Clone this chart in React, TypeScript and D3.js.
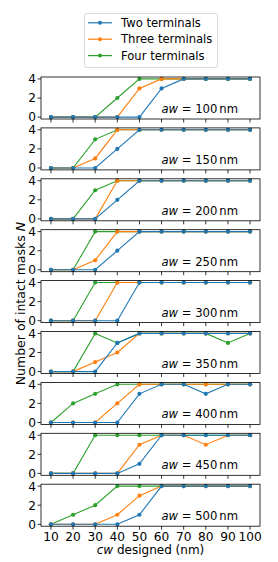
import React from 'react';
import * as d3 from 'd3';

// cw designed (nm)
const cwValues = [10, 20, 30, 40, 50, 60, 70, 80, 90, 100];
const awLabels = [100, 150, 200, 250, 300, 350, 400, 450, 500];
const yTicks = [0, 2, 4];

const seriesNames = ['Two terminals', 'Three terminals', 'Four terminals'];
const seriesColors = ['#1f77b4', '#ff7f0e', '#2ca02c'];

// one row per aw panel
const twoTerminals = [
  [0, 0, 0, 0, 0, 3, 4, 4, 4, 4],
  [0, 0, 0, 2, 4, 4, 4, 4, 4, 4],
  [0, 0, 0, 2, 4, 4, 4, 4, 4, 4],
  [0, 0, 0, 2, 4, 4, 4, 4, 4, 4],
  [0, 0, 0, 0, 4, 4, 4, 4, 4, 4],
  [0, 0, 0, 3, 4, 4, 4, 4, 4, 4],
  [0, 0, 0, 0, 3, 4, 4, 3, 4, 4],
  [0, 0, 0, 0, 1, 4, 4, 4, 4, 4],
  [0, 0, 0, 0, 1, 4, 4, 4, 4, 4],
];
const threeTerminals = [
  [0, 0, 0, 0, 3, 4, 4, 4, 4, 4],
  [0, 0, 1, 4, 4, 4, 4, 4, 4, 4],
  [0, 0, 0, 4, 4, 4, 4, 4, 4, 4],
  [0, 0, 1, 4, 4, 4, 4, 4, 4, 4],
  [0, 0, 0, 4, 4, 4, 4, 4, 4, 4],
  [0, 0, 1, 2, 4, 4, 4, 4, 4, 4],
  [0, 0, 0, 2, 4, 4, 4, 4, 4, 4],
  [0, 0, 0, 0, 3, 4, 4, 3, 4, 4],
  [0, 0, 0, 1, 3, 4, 4, 4, 4, 4],
];
const fourTerminals = [
  [0, 0, 0, 2, 4, 4, 4, 4, 4, 4],
  [0, 0, 3, 4, 4, 4, 4, 4, 4, 4],
  [0, 0, 3, 4, 4, 4, 4, 4, 4, 4],
  [0, 0, 4, 4, 4, 4, 4, 4, 4, 4],
  [0, 0, 4, 4, 4, 4, 4, 4, 4, 4],
  [0, 0, 4, 3, 4, 4, 4, 4, 3, 4],
  [0, 2, 3, 4, 4, 4, 4, 4, 4, 4],
  [0, 0, 4, 4, 4, 4, 4, 4, 4, 4],
  [0, 1, 2, 4, 4, 4, 4, 4, 4, 4],
];

const allSeries = [twoTerminals, threeTerminals, fourTerminals];

const width = 278;
const height = 562;
const left = 41;
const right = 260;
const firstTop = 77;
const panelH = 42;
const pitch = 50.9;
const font = 'DejaVu Sans, sans-serif';

export default function App() {
  const x = d3.scaleLinear().domain([5.5, 104.5]).range([left, right]);
  const y = d3.scaleLinear().domain([-0.2, 4.2]).range([panelH, 0]);
  const line = d3
    .line<number>()
    .x((_, i) => x(cwValues[i]))
    .y((d) => y(d));

  // blue drawn last so it sits on top
  const drawOrder = [2, 1, 0];

  return (
    <svg width={width} height={height} style={{ position: 'absolute', left: 0, top: 0 }}>
      <rect width={width} height={height} fill="#fff" />
      {/* legend */}
      <g>
        <rect x={84.5} y={13.5} width={133} height={54} rx={2} fill="#fff" stroke="#d9d9d9" />
        {seriesNames.map((name, i) => (
          <g key={name} transform={`translate(0, ${22.8 + i * 16.4})`}>
            <line x1={88} x2={112} y1={0} y2={0} stroke={seriesColors[i]} strokeWidth={1.2} />
            <circle cx={100} cy={0} r={2} fill={seriesColors[i]} />
            <text x={121} y={4.2} fontFamily={font} fontSize={11.6} fill="#000">
              {name}
            </text>
          </g>
        ))}
      </g>

      {awLabels.map((aw, p) => {
        const top = firstTop + p * pitch;
        const isLast = p === awLabels.length - 1;
        return (
          <g key={aw} transform={`translate(0, ${top})`}>
            {drawOrder.map((s) => (
              <g key={s}>
                <path d={line(allSeries[s][p]) || ''} fill="none" stroke={seriesColors[s]} strokeWidth={1.1} />
                {allSeries[s][p].map((v, i) => (
                  <circle key={i} cx={x(cwValues[i])} cy={y(v)} r={2.1} fill={seriesColors[s]} />
                ))}
              </g>
            ))}
            <rect x={left} y={0} width={right - left} height={panelH} fill="none" stroke="#000" strokeWidth={0.8} />
            {yTicks.map((t) => (
              <g key={t}>
                <line x1={left - 3.5} x2={left} y1={y(t)} y2={y(t)} stroke="#000" strokeWidth={0.8} />
                <text x={left - 5} y={y(t) + 4.4} textAnchor="end" fontFamily={font} fontSize={12.2}>
                  {t}
                </text>
              </g>
            ))}
            {cwValues.map((c) => (
              <g key={c}>
                <line x1={x(c)} x2={x(c)} y1={panelH} y2={panelH + 3.5} stroke="#000" strokeWidth={0.8} />
                {isLast && (
                  <text x={x(c)} y={panelH + 15} textAnchor="middle" fontFamily={font} fontSize={12.2}>
                    {c}
                  </text>
                )}
              </g>
            ))}
            <text x={238} y={36} textAnchor="end" fontFamily={font} fontSize={11.6}>
              <tspan fontStyle="italic">aw</tspan>
              <tspan> = {aw}</tspan>
              <tspan dx={2}>nm</tspan>
            </text>
          </g>
        );
      })}

      <text x={(left + right) / 2} y={554} textAnchor="middle" fontFamily={font} fontSize={12}>
        <tspan fontStyle="italic">cw</tspan> designed (nm)
      </text>
      <text
        transform={`translate(25, ${firstTop + (8 * pitch + panelH) / 2 + 2}) rotate(-90)`}
        textAnchor="middle"
        fontFamily={font}
        fontSize={12.5}
      >
        Number of intact masks <tspan fontStyle="italic">N</tspan>
      </text>
    </svg>
  );
}
